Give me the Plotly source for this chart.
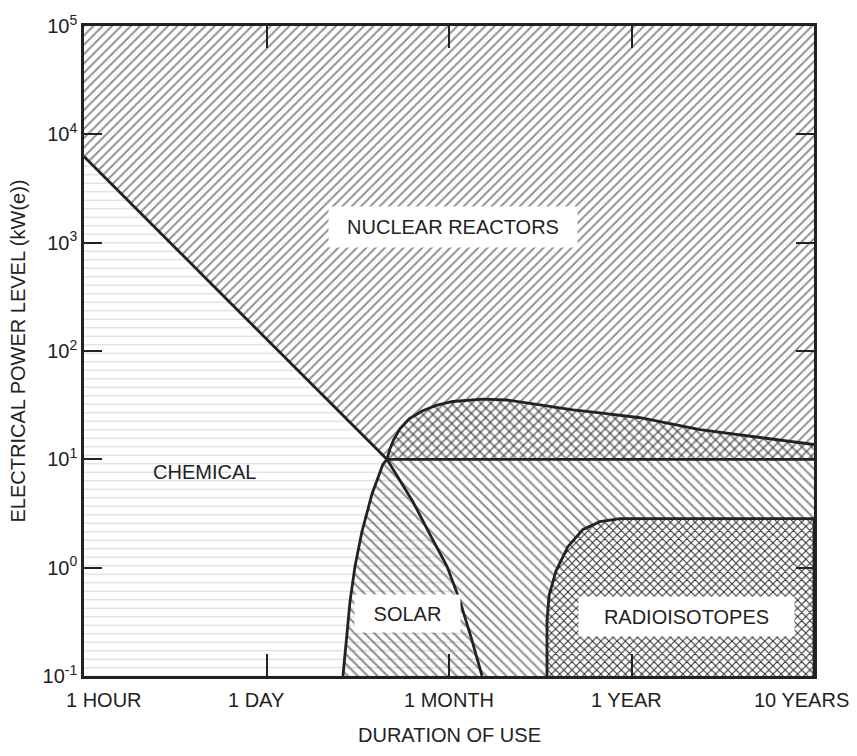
import math
import plotly.graph_objects as go

# Schematic duration axis: 0 = 1 hour, 1 = 1 day, 2 = 1 month, 3 = 1 year, 4 = 10 years
x_tick_pos = [0, 1, 2, 3, 4]
x_tick_text = ["1 HOUR", "1 DAY", "1 MONTH", "1 YEAR", "10 YEARS"]
x_label_pos = [0.11, 0.94, 2.0, 2.97, 3.93]

y_tick_vals = [0.1, 1, 10, 100, 1000, 10000, 100000]
y_tick_text = ["10<sup>-1</sup>", "10<sup>0</sup>", "10<sup>1</sup>", "10<sup>2</sup>",
               "10<sup>3</sup>", "10<sup>4</sup>", "10<sup>5</sup>"]

X_MIN, X_MAX = 0.0, 4.0
P_MIN, P_MAX = 0.1, 1e5

# Chemical / nuclear-reactor boundary (kW(e) vs duration)
chem_top_x = [0.0, 1.66]
chem_top_p = [6240, 10]

# Right edge of the chemical regime below 10 kW(e)
chem_right_x = [1.66, 1.704, 1.803, 1.896, 1.989, 2.060, 2.126, 2.181]
chem_right_p = [10, 7.6, 4.04, 2.02, 1.03, 0.494, 0.213, 0.1]

# Left edge of the solar regime
solar_left_x = [1.419, 1.436, 1.458, 1.485, 1.523, 1.578, 1.638, 1.66]
solar_left_p = [0.1, 0.213, 0.494, 1.03, 2.15, 4.79, 9.0, 10]

# Upper edge of the solar regime (above the 10 kW(e) line)
solar_top_x = [1.66, 1.675, 1.695, 1.73, 1.78, 1.85, 1.93, 2.02, 2.186, 2.318,
               2.499, 2.679, 2.827, 3.047, 3.375, 3.704, 4.0]
solar_top_p = [10, 12.3, 15.0, 19.0, 23.5, 27.8, 31.5, 34.2, 36, 35.3,
               31.8, 28.6, 26.9, 24.2, 18.8, 15.9, 13.7]

# Lower limit of nuclear reactors
reactor_floor_p = 10

# Radioisotope regime outline (rounded upper-left corner)
radio_x = [2.537, 2.537, 2.548, 2.586, 2.652, 2.734, 2.827, 2.937, 4.0, 4.0]
radio_p = [0.1, 0.324, 0.55, 0.93, 1.57, 2.25, 2.66, 2.83, 2.83, 0.1]

region_labels = ["NUCLEAR REACTORS", "CHEMICAL", "SOLAR", "RADIOISOTOPES"]
label_x = [2.02, 0.658, 1.775, 3.30]
label_p = [1400, 7.6, 0.376, 0.353]
label_box_w = [246, None, 103, 213]
label_box_h = [38, None, 35, 37]

INK = "#222222"
HATCH = "#222222"
FONT = "Liberation Sans, Arial, sans-serif"
CLEAR = "rgba(0,0,0,0)"

fig = go.Figure()

# Chemical regime
chem_x = [X_MIN] + chem_top_x + chem_right_x[1:] + [X_MIN]
chem_y = [P_MIN] + chem_top_p + chem_right_p[1:] + [P_MIN]
fig.add_trace(go.Scatter(
    x=chem_x, y=chem_y, mode="lines", fill="toself", fillcolor=CLEAR,
    line=dict(width=0), hoverinfo="skip",
    fillpattern=dict(shape="-", size=8.5, solidity=0.14, fgcolor="#808080",
                     fgopacity=0.3, bgcolor=CLEAR)))

# Solar regime
solar_x = solar_left_x + solar_top_x[1:] + [X_MAX, solar_left_x[0]]
solar_y = solar_left_p + solar_top_p[1:] + [P_MIN, P_MIN]
fig.add_trace(go.Scatter(
    x=solar_x, y=solar_y, mode="lines", fill="toself", fillcolor=CLEAR,
    line=dict(width=0), hoverinfo="skip",
    fillpattern=dict(shape="\\", size=7.0, solidity=0.3, fgcolor=HATCH,
                     bgcolor=CLEAR)))

# Nuclear reactor regime
nuc_x = chem_top_x + [X_MAX, X_MAX, X_MIN, X_MIN]
nuc_y = chem_top_p + [reactor_floor_p, P_MAX, P_MAX, chem_top_p[0]]
fig.add_trace(go.Scatter(
    x=nuc_x, y=nuc_y, mode="lines", fill="toself", fillcolor=CLEAR,
    line=dict(width=0), hoverinfo="skip",
    fillpattern=dict(shape="/", size=6.6, solidity=0.3, fgcolor=HATCH,
                     bgcolor=CLEAR)))

# Radioisotope regime
fig.add_trace(go.Scatter(
    x=radio_x + [radio_x[0]], y=radio_p + [radio_p[0]], mode="lines",
    fill="toself", fillcolor="white", line=dict(width=0), hoverinfo="skip",
    fillpattern=dict(shape="x", size=5.8, solidity=0.32, fgcolor="#2a2a2a",
                     bgcolor="white", fillmode="replace")))

# Regime boundaries
boundaries = [
    (chem_top_x, chem_top_p),
    (chem_right_x, chem_right_p),
    (solar_left_x, solar_left_p),
    (solar_top_x, solar_top_p),
    ([chem_top_x[-1], X_MAX], [reactor_floor_p, reactor_floor_p]),
    (radio_x, radio_p),
]
for bx, by in boundaries:
    fig.add_trace(go.Scatter(x=bx, y=by, mode="lines", hoverinfo="skip",
                             line=dict(color=INK, width=2.8)))

# Region labels
for text, lx, lp, bw, bh in zip(region_labels, label_x, label_p, label_box_w, label_box_h):
    ann = dict(x=lx, y=math.log10(lp), xref="x", yref="y", text=text,
               showarrow=False, font=dict(family=FONT, size=20, color="#222"),
               xanchor="center", yanchor="middle")
    if bw:
        ann.update(bgcolor="white", width=bw, height=bh)
    fig.add_annotation(**ann)

# Duration labels under the axis
for lx, text in zip(x_label_pos, x_tick_text):
    fig.add_annotation(x=lx, y=0, xref="x", yref="paper", yshift=-24,
                       text=text, showarrow=False, xanchor="center", yanchor="middle",
                       font=dict(family=FONT, size=20, color="#222"))

fig.add_annotation(x=0.5, y=0, xref="paper", yref="paper", yshift=-59,
                   text="DURATION OF USE", showarrow=False,
                   xanchor="center", yanchor="middle",
                   font=dict(family=FONT, size=20, color="#222"))

axis_common = dict(showgrid=False, zeroline=False, showline=True, linecolor=INK,
                   linewidth=2.5, mirror="ticks", ticks="inside", tickcolor=INK,
                   tickwidth=2)

fig.update_layout(
    width=857, height=756,
    margin=dict(l=84, r=43, t=19, b=80),
    paper_bgcolor="white", plot_bgcolor="white",
    showlegend=False,
    font=dict(family=FONT, size=20, color="#222"),
    xaxis=dict(range=[X_MIN, X_MAX], tickvals=x_tick_pos, showticklabels=False,
               ticklen=22, **axis_common),
    yaxis=dict(type="log", range=[math.log10(P_MIN), math.log10(P_MAX)],
               tickvals=y_tick_vals, ticktext=y_tick_text, ticklen=18,
               tickfont=dict(family=FONT, size=20, color="#222"),
               title=dict(text="ELECTRICAL POWER LEVEL (kW(e))", standoff=12,
                          font=dict(family=FONT, size=20, color="#222")),
               **axis_common),
)

fig.write_html("out.html")
